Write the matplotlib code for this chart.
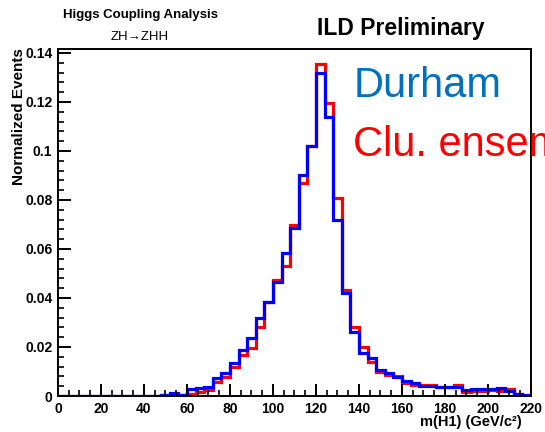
import numpy as np
import matplotlib
matplotlib.use("Agg")
import matplotlib.pyplot as plt
from matplotlib.ticker import MultipleLocator

plt.rcParams['font.family'] = ['Liberation Sans', 'DejaVu Sans']

# bin edges: 0 to 220 GeV in steps of 4
edges = np.arange(0, 224, 4)

# Durham jet clustering (blue)
durham = [0, 0, 0, 0, 0, 0, 0, 0, 0, 0, 0, 0,
          0.0004, 0.0012, 0.0003, 0.0027, 0.0031, 0.0038, 0.0072, 0.0095,
          0.0133, 0.0188, 0.0235, 0.0317, 0.0385, 0.0467, 0.0582, 0.0686,
          0.090, 0.102, 0.1317, 0.114, 0.072, 0.0419, 0.0262, 0.0174,
          0.0154, 0.0106, 0.0093, 0.0076, 0.0061, 0.0052, 0.0041, 0.0041,
          0.0038, 0.0038, 0.0035, 0.0024, 0.0027, 0.0027, 0.0027, 0.0031,
          0.0020, 0.0010, 0.0005]

# cluster ensemble (red)
clu_ens = [0, 0, 0, 0, 0, 0, 0, 0, 0, 0, 0, 0,
           0.0003, 0.0005, 0.0003, 0.0010, 0.0018, 0.0024, 0.0056, 0.0079,
           0.0120, 0.0167, 0.0195, 0.0283, 0.0385, 0.0473, 0.0530, 0.0698,
           0.087, 0.102, 0.1355, 0.1195, 0.081, 0.0433, 0.0280, 0.0201,
           0.0140, 0.0099, 0.0086, 0.0082, 0.0054, 0.0045, 0.0045, 0.0045,
           0.0038, 0.0038, 0.0045, 0.0018, 0.0022, 0.0022, 0.0024, 0.0022,
           0.0027, 0.0008, 0.0005]

fig = plt.figure(figsize=(5.45, 4.32), dpi=100)
ax = fig.add_axes([0.1064, 0.0833, 0.8679, 0.8033])

ax.stairs(clu_ens, edges, color='#FF0000', linewidth=2.3)
ax.stairs(durham, edges, color='#0000FF', linewidth=2.3)

ax.set_xlim(0, 220)
ax.set_ylim(0, 0.1416)

ax.xaxis.set_major_locator(MultipleLocator(20))
ax.xaxis.set_minor_locator(MultipleLocator(5))
ax.yaxis.set_major_locator(MultipleLocator(0.02))
ax.yaxis.set_minor_locator(MultipleLocator(0.004))
ax.yaxis.set_major_formatter(plt.FuncFormatter(lambda v, p: '0' if v == 0 else ('%g' % round(v, 3))))

ax.tick_params(which='major', direction='in', length=9, width=1.4, labelsize=10, pad=4)
ax.tick_params(which='minor', direction='in', length=4.5, width=1.2)
for lab in ax.get_xticklabels() + ax.get_yticklabels():
    lab.set_fontweight('bold')
for s in ax.spines.values():
    s.set_linewidth(1.4)

# axis titles placed like ROOT does (overlapping the tick labels a bit)
fig.text(0.958, 0.014, 'm(H1) (GeV/c²)', fontsize=10.5, fontweight='bold', ha='right', va='baseline')
fig.text(0.035, 0.889, 'Normalized Events', fontsize=11, fontweight='bold', rotation=90,
         ha='center', va='top')

fig.text(0.257, 0.958, 'Higgs Coupling Analysis', fontsize=9.5, fontweight='bold', ha='center', va='baseline')
fig.text(0.257, 0.907, 'ZH→ZHH', fontsize=9.5, ha='center', va='baseline')
fig.text(0.582, 0.919, 'ILD Preliminary', fontsize=16.5, fontweight='bold', ha='left', va='baseline')

fig.text(0.648, 0.775, 'Durham', fontsize=30, color='#0070C0', ha='left', va='baseline')
fig.text(0.648, 0.640, 'Clu. ensemble', fontsize=30, color='#FF0000', ha='left', va='baseline')

fig.savefig('out.png', dpi=100)
